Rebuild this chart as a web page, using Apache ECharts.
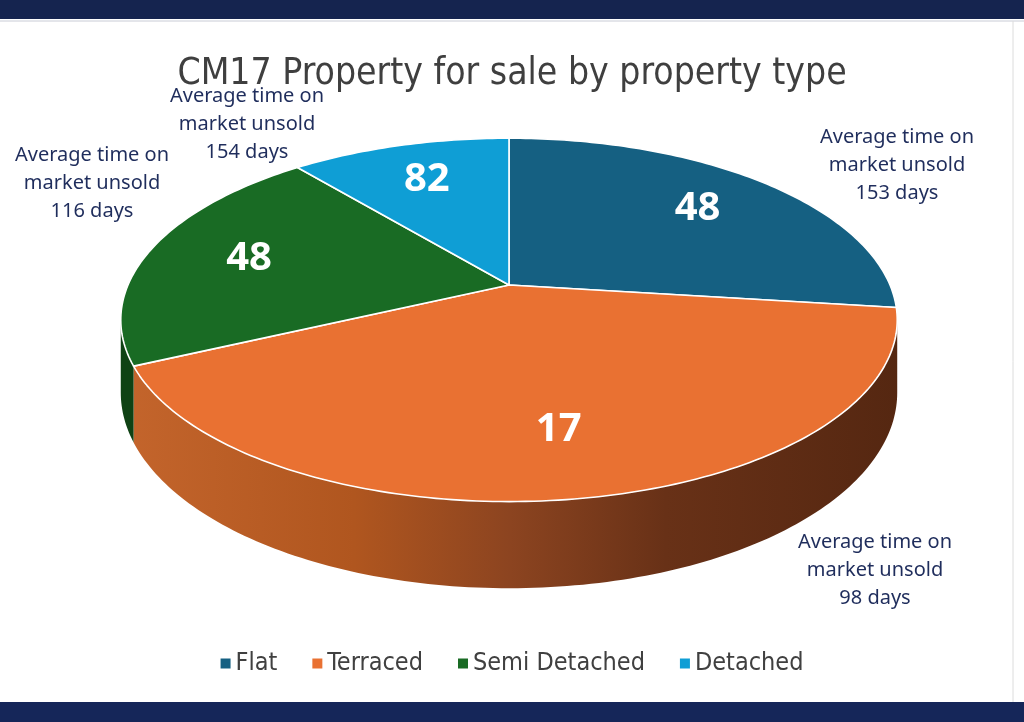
<!DOCTYPE html>
<html>
<head>
<meta charset="utf-8">
<title>CM17 Property for sale by property type</title>
<script src="https://cdn.jsdelivr.net/npm/echarts@6/dist/echarts.min.js"></script>
<style>
  html, body { margin: 0; padding: 0; background: #fff; }
  #chart { width: 1024px; height: 722px; }
</style>
</head>
<body>
<div id="chart"></div>
<script>
  // data
  const categories = ["Flat", "Terraced", "Semi Detached", "Detached"];
  const shares = [27, 41, 21, 11];           // slice sizes (% of the pie, estimated)
  const sliceLabels = ["48", "17", "48", "82"]; // numbers printed on the slices
  const avgDays = [153, 98, 116, 154];         // average time on market unsold

  const colors = ["#156082", "#e97132", "#196b24", "#0f9ed5"];
  const sideColors = [
    "#0e4560",
    {
      type: "linear", x: 120, y: 0, x2: 900, y2: 0, global: true,
      colorStops: [
        { offset: 0, color: "#c4652c" },
        { offset: 0.3, color: "#b0561f" },
        { offset: 0.5, color: "#8c4420" },
        { offset: 0.7, color: "#683117" },
        { offset: 1, color: "#552711" }
      ]
    },
    "#0f4214",
    "#0a6f99"
  ];
  const narrow = '"DejaVu Sans Condensed", "Liberation Sans", sans-serif';

  // fake 3D: tilted disc with a bit of perspective
  const CX = 509, CY = 285, A = 381, B = 175, P = 0.192, H = 70, LABEL_R = 0.72;
  const SIL = Math.asin(-P) * 180 / Math.PI; // silhouette angle (about -11 deg)

  function proj(deg, r, drop) {
    const t = deg * Math.PI / 180;
    const u = Math.cos(t) * r, v = Math.sin(t) * r;
    const w = 1 + P * v;
    return [CX + A * u / w, CY - B * v / w + drop / w];
  }

  const total = shares.reduce((s, v) => s + v, 0);
  function sliceRange(i) {
    let before = 0;
    for (let k = 0; k < i; k++) before += shares[k];
    const a0 = 90 - before / total * 360;
    const a1 = a0 - shares[i] / total * 360;
    return [a0, a1];
  }

  function arc(from, to, r, drop) {
    const n = Math.max(2, Math.ceil(Math.abs(to - from)));
    const pts = [];
    for (let k = 0; k <= n; k++) pts.push(proj(from + (to - from) * k / n, r, drop));
    return pts;
  }

  function renderSide(params, api) {
    const i = api.value(1);
    const [a0, a1] = sliceRange(i);
    const parts = [];
    [0, 360, -360].forEach(function (off) {
      const hi = Math.min(a0 + off, SIL);
      const lo = Math.max(a1 + off, -180 - SIL);
      if (hi > lo) {
        const pts = arc(hi, lo, 1, 0).concat(arc(lo, hi, 1, H));
        parts.push({
          type: "polygon",
          shape: { points: pts },
          style: { fill: sideColors[i] }
        });
      }
    });
    return { type: "group", children: parts };
  }

  function renderTop(i) {
    return function (params, api) {
      const [a0, a1] = sliceRange(i);
      const pts = [proj(0, 0, 0)].concat(arc(a0, a1, 1, 0));
      const lp = proj((a0 + a1) / 2, LABEL_R, 0);
      return {
        type: "group",
        children: [
          {
            type: "polygon",
            shape: { points: pts },
            style: { fill: api.visual("color"), stroke: "#ffffff", lineWidth: 1.6, lineJoin: "round" }
          },
          {
            type: "text",
            x: lp[0], y: lp[1],
            style: {
              text: sliceLabels[i], fill: "#ffffff",
              font: 'bold 40px "Open Sans"', align: "center", verticalAlign: "middle"
            }
          }
        ]
      };
    };
  }

  const series = [{
    type: "custom",
    name: "side",
    coordinateSystem: "none",
    z: 2,
    silent: true,
    data: shares.map((v, i) => [v, i]),
    renderItem: renderSide
  }];
  categories.forEach(function (name, i) {
    series.push({
      type: "custom",
      name: name,
      coordinateSystem: "none",
      z: 3,
      itemStyle: { color: colors[i] },
      data: [[shares[i], i]],
      renderItem: renderTop(i)
    });
  });

  function note(days) {
    return "Average time on\nmarket unsold\n" + days + " days";
  }
  const noteStyle = { font: '20px "Noto Sans"', lineHeight: 28, fill: "#1f2d5c", align: "center", verticalAlign: "top" };
  const notePos = [[897, 123], [875, 528], [92, 141], [247, 82]];

  const chart = echarts.init(document.getElementById("chart"));
  chart.setOption({
    backgroundColor: "#ffffff",
    animation: false,
    title: {
      text: "CM17 Property for sale by property type",
      left: "center",
      top: 51,
      textStyle: { fontFamily: narrow, fontWeight: "normal", fontSize: 37, color: "#3f3f3f" }
    },
    legend: {
      data: categories,
      left: "center",
      top: 646,
      icon: "rect",
      itemWidth: 10,
      itemHeight: 10,
      itemGap: 35,
      textStyle: { fontFamily: narrow, fontSize: 25, color: "#404040" }
    },
    series: series,
    graphic: [
      { type: "rect", z: 10, shape: { x: 0, y: 0, width: 1024, height: 19 }, style: { fill: "#15244f" } },
      { type: "rect", z: 10, shape: { x: 0, y: 702, width: 1024, height: 20 }, style: { fill: "#152659" } },
      { type: "line", z: 10, shape: { x1: 0, y1: 21, x2: 1024, y2: 21 }, style: { stroke: "#c9ccd6", lineWidth: 1 } },
      { type: "line", z: 10, shape: { x1: 1013, y1: 21, x2: 1013, y2: 702 }, style: { stroke: "#dcdcdc", lineWidth: 1 } }
    ].concat(categories.map(function (c, i) {
      return {
        type: "text", z: 10, x: notePos[i][0], y: notePos[i][1],
        style: Object.assign({ text: note(avgDays[i]) }, noteStyle)
      };
    }))
  });
</script>
</body>
</html>
